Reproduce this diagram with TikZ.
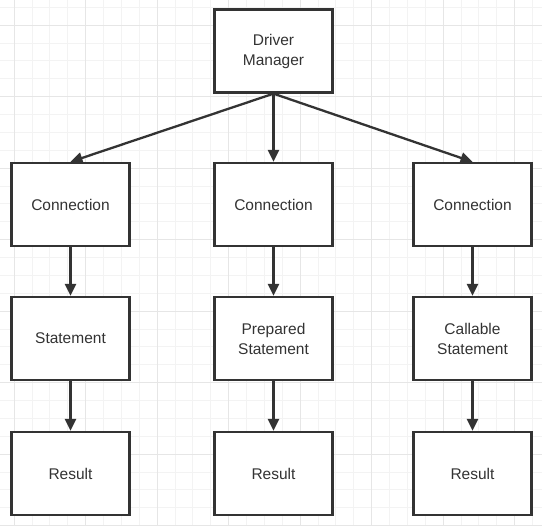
\documentclass[tikz,border=0pt]{standalone}
\usepackage{fontspec}
\setmainfont{Liberation Sans}
\usepackage{xcolor}
\usepackage{tikz}
\usetikzlibrary{arrows.meta}
\definecolor{boxLine}{HTML}{333333}
\definecolor{gridMinor}{HTML}{F3F3F3}
\definecolor{gridMajor}{HTML}{E6E6E6}

\begin{document}
\begin{tikzpicture}[x=1pt, y=-1pt,
    box/.style={draw=boxLine, line width=2.3pt, fill=white, minimum width=118pt, minimum height=83pt,
        align=center, text=boxLine, font=\fontsize{15.5}{20}\selectfont},
    link/.style={draw=boxLine, line width=2.3pt, -{Triangle[length=12pt, width=11pt]}}]
    \useasboundingbox (0,0) rectangle (542,526);
    % background grid
    \foreach \i in {0,...,29} {
        \draw[gridMinor, line width=0.6pt] ({14+\i*17.875},0) -- ({14+\i*17.875},526);
        \draw[gridMinor, line width=0.6pt] (0,{7.1+\i*17.875}) -- (542,{7.1+\i*17.875});
    }
    \foreach \i in {0,...,7} {
        \draw[gridMajor, line width=0.8pt] ({14+\i*71.5},0) -- ({14+\i*71.5},526);
        \draw[gridMajor, line width=0.8pt] (0,{25+\i*71.5}) -- (542,{25+\i*71.5});
    }
    % boxes
    \node[box] (driver) at (273.5,51) {Driver\\Manager};
    \node[box] (connA) at (70.5,204.5) {Connection};
    \node[box] (connB) at (273.5,204.5) {Connection};
    \node[box] (connC) at (472.5,204.5) {Connection};
    \node[box] (stmt) at (70.5,338.5) {Statement};
    \node[box] (prepStmt) at (273.5,338.5) {Prepared\\Statement};
    \node[box] (callStmt) at (472.5,338.5) {Callable\\Statement};
    \node[box] (resA) at (70.5,473.5) {Result};
    \node[box] (resB) at (273.5,473.5) {Result};
    \node[box] (resC) at (472.5,473.5) {Result};
    % arrows
    \foreach \c in {connA, connB, connC}
        \draw[link] (driver.south) -- (\c.north);
    \draw[link] (connA) -- (stmt);
    \draw[link] (connB) -- (prepStmt);
    \draw[link] (connC) -- (callStmt);
    \draw[link] (stmt) -- (resA);
    \draw[link] (prepStmt) -- (resB);
    \draw[link] (callStmt) -- (resC);
\end{tikzpicture}
\end{document}
